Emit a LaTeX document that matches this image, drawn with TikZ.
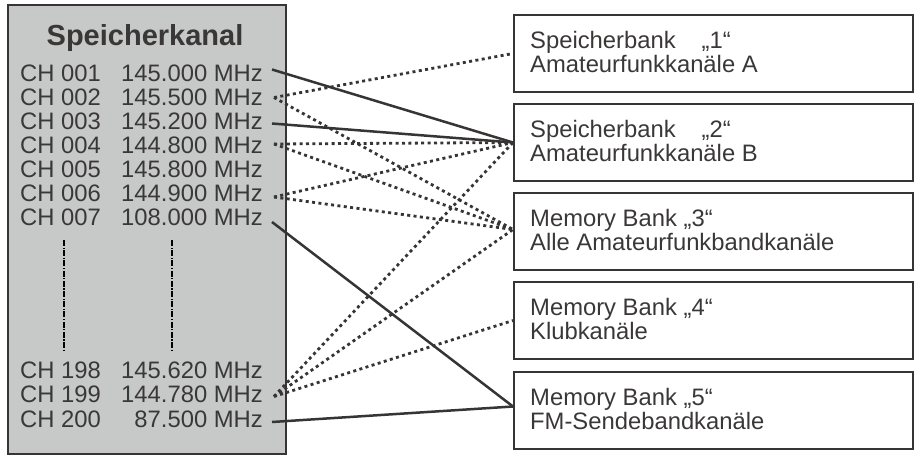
\documentclass[tikz,border=0pt]{standalone}
\usepackage{fontspec}
\setmainfont{Liberation Sans}
\definecolor{panel}{RGB}{199,200,200}
\definecolor{ink}{RGB}{58,55,55}
\definecolor{edge}{RGB}{55,52,52}
\begin{document}
\begin{tikzpicture}[x=1pt,y=-1pt,
  txt/.style={font=\fontsize{23.8}{24}\selectfont, text=ink, inner sep=0pt},
  ttl/.style={font=\fontsize{29}{30}\selectfont\bfseries, text=ink, inner sep=0pt},
  panelbox/.style={draw=edge, fill=panel, line width=2pt, minimum width=278pt, minimum height=449pt, anchor=north west, inner sep=0pt},
  bank/.style={draw=edge, line width=2pt, minimum width=399pt, minimum height=77pt, anchor=north west, inner sep=0pt},
  solidlink/.style={draw=edge, line width=2.5pt},
  dotlink/.style={draw=edge, line width=2.8pt, dash pattern=on 3pt off 3.4pt},
  elide/.style={draw=black, line width=2.8pt, dash pattern=on 6pt off 1.5pt on 1.2pt off 1.5pt}
]
\useasboundingbox (0,0) rectangle (914,455);

% left panel
\node[panelbox] (panel) at (7,4) {};
\node[ttl, anchor=base] (title) at (145,45.5) {Speicherkanal};

\foreach \nm/\ch/\fr/\yb in {r1/001/145.000/81.5, r2/002/145.500/105.5, r3/003/145.200/129.5,
  r4/004/144.800/153.5, r5/005/145.800/177.5, r6/006/144.900/201.5, r7/007/108.000/225.5,
  r198/198/145.620/378.3, r199/199/144.780/402.6, r200/200/87.500/427}{
  \node[txt, anchor=base west] (\nm ch) at (20,\yb) {CH \ch};
  \node[txt, anchor=base east] (\nm fr) at (263,\yb) {\fr{} MHz};
}

\coordinate (ea1) at (64,240); \coordinate (ea2) at (64,350);
\coordinate (eb1) at (172,240); \coordinate (eb2) at (172,350);
\draw[elide] (ea1) -- (ea2);
\draw[elide] (eb1) -- (eb2);

% bank boxes
\node[bank] (b1) at (513,14) {};
\node[bank] (b2) at (513,103) {};
\node[bank] (b3) at (513,192) {};
\node[bank] (b4) at (513,281) {};
\node[bank] (b5) at (513,371) {};

\node[txt, anchor=base west] (b1a) at (530,48.5) {Speicherbank\hspace{26pt}„1“};
\node[txt, anchor=base west] (b1b) at (530,72.7) {Amateurfunkkanäle A};
\node[txt, anchor=base west] (b2a) at (530,137.5) {Speicherbank\hspace{26pt}„2“};
\node[txt, anchor=base west] (b2b) at (530,161.7) {Amateurfunkkanäle B};
\node[txt, anchor=base west] (b3a) at (530,226.5) {Memory Bank „3“};
\node[txt, anchor=base west] (b3b) at (530,250.7) {Alle Amateurfunkbandkanäle};
\node[txt, anchor=base west] (b4a) at (530,315.5) {Memory Bank „4“};
\node[txt, anchor=base west] (b4b) at (530,339.7) {Klubkanäle};
\node[txt, anchor=base west] (b5a) at (530,405.5) {Memory Bank „5“};
\node[txt, anchor=base west] (b5b) at (530,429.7) {FM-Sendebandkanäle};

% connector start points
\coordinate (s001) at (272,69.5);
\coordinate (s003) at (272,123.5);
\coordinate (s007) at (272,222);
\coordinate (s200) at (272,422);
\coordinate (d002) at (274,97.5);
\coordinate (d004) at (274,144);
\coordinate (d006) at (274,197);
\coordinate (d199) at (274,396.5);

% solid links
\draw[solidlink] (s001) -- (b2.west);
\draw[solidlink] (s003) -- (b2.west);
\draw[solidlink] (s007) -- ([yshift=4pt]b5.west);
\draw[solidlink] (s200) -- ([yshift=4pt]b5.west);

% dotted links
\draw[dotlink] (d002) -- (b1.west);
\draw[dotlink] (d002) -- ([yshift=2pt]b3.west);
\draw[dotlink] (d004) -- (b2.west);
\draw[dotlink] (d004) -- ([yshift=2pt]b3.west);
\draw[dotlink] (d006) -- (b2.west);
\draw[dotlink] (d006) -- ([yshift=2pt]b3.west);
\draw[dotlink] (d199) -- (b2.west);
\draw[dotlink] (d199) -- ([yshift=2pt]b3.west);
\draw[dotlink] (d199) -- (b4.west);
\end{tikzpicture}
\end{document}
